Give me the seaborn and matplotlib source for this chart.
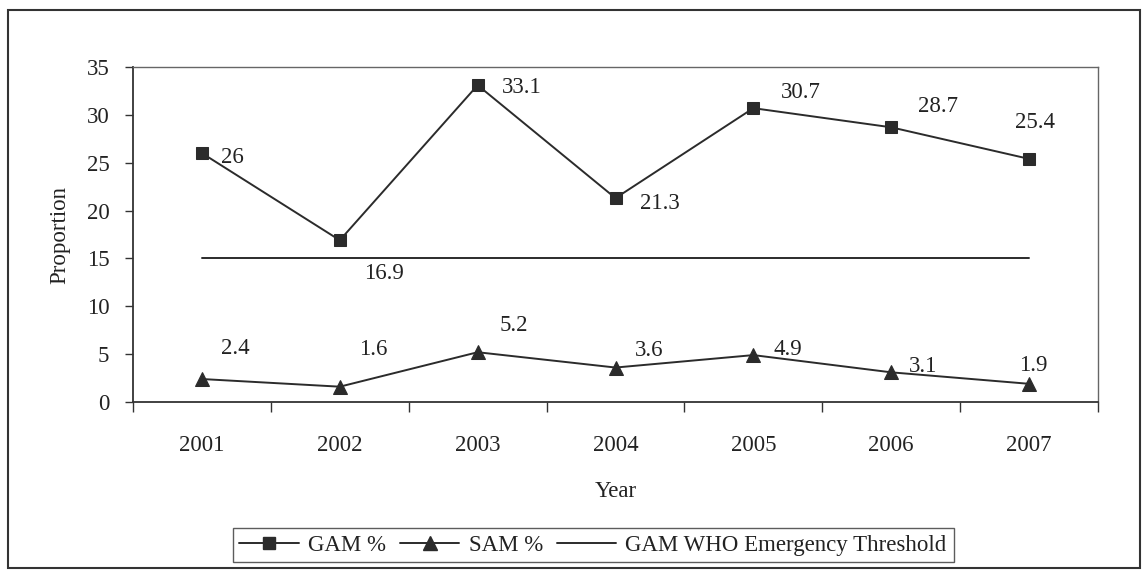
import matplotlib
matplotlib.use("Agg")
import matplotlib.pyplot as plt
import seaborn as sns
import pandas as pd
import numpy as np
from matplotlib.lines import Line2D
from matplotlib.patches import Rectangle

years = ["2001", "2002", "2003", "2004", "2005", "2006", "2007"]
gam = [26, 16.9, 33.1, 21.3, 30.7, 28.7, 25.4]
sam = [2.4, 1.6, 5.2, 3.6, 4.9, 3.1, 1.9]
threshold = [15, 15, 15, 15, 15, 15, 15]
gam_labels = ["26", "16.9", "33.1", "21.3", "30.7", "28.7", "25.4"]
sam_labels = ["2.4", "1.6", "5.2", "3.6", "4.9", "3.1", "1.9"]

# label offsets (points) relative to the data point
gam_offsets = [(22, -3), (32, -24), (32, -2), (32, -4), (34, 11), (34, 15), (4, 26)]
sam_offsets = [(24, 22), (24, 27), (26, 19), (24, 12), (25, 4), (23, 4), (3, 13)]

FS = 16.5

sns.set_theme(style="white")
plt.rcParams["font.family"] = ["Liberation Serif", "DejaVu Serif"]
plt.rcParams["font.size"] = FS

df = pd.DataFrame({"pos": np.arange(len(years)), "GAM": gam, "SAM": sam, "THR": threshold})

fig = plt.figure(figsize=(11.46, 5.8), dpi=100)
fig.patch.set_facecolor("white")
ax = fig.add_axes([133 / 1146, 1 - 402 / 580, (1098 - 133) / 1146, (402 - 67) / 580])

lc = "#2b2b2b"
sns.lineplot(data=df, x="pos", y="GAM", ax=ax, color=lc, lw=1.4, marker="s",
             markersize=8, markeredgecolor=lc, markerfacecolor=lc)
sns.lineplot(data=df, x="pos", y="SAM", ax=ax, color=lc, lw=1.4, marker="^",
             markersize=10, markeredgecolor=lc, markerfacecolor=lc)
sns.lineplot(data=df, x="pos", y="THR", ax=ax, color=lc, lw=1.4)

for i, (v, t) in enumerate(zip(gam, gam_labels)):
    ax.annotate(t, (i, v), xytext=gam_offsets[i], textcoords="offset points",
                ha="center", va="center", fontsize=FS, color="#222222")
for i, (v, t) in enumerate(zip(sam, sam_labels)):
    ax.annotate(t, (i, v), xytext=sam_offsets[i], textcoords="offset points",
                ha="center", va="center", fontsize=FS, color="#222222")

ax.set_xlim(-0.5, len(years) - 0.5)
ax.set_ylim(0, 35)
ax.set_yticks(range(0, 36, 5))
ax.set_xticks(range(len(years)))
ax.set_xticklabels(years)
ax.set_xticks(np.arange(-0.5, len(years), 1.0), minor=True)
ax.tick_params(axis="x", which="major", length=0, pad=24, labelsize=FS, colors="#222222")
ax.tick_params(axis="x", which="minor", length=7, width=1, direction="out", color="#333333", bottom=True)
ax.tick_params(axis="y", which="major", length=6, width=1, direction="out", color="#333333",
               left=True, pad=11, labelsize=FS, labelcolor="#222222")

ax.set_xlabel("Year", fontsize=FS, labelpad=18, color="#222222")
ax.set_ylabel("Proportion", fontsize=FS, labelpad=12, color="#222222")

for s in ["left", "bottom"]:
    ax.spines[s].set_color("#333333")
    ax.spines[s].set_linewidth(1.3)
for s in ["top", "right"]:
    ax.spines[s].set_color("#666666")
    ax.spines[s].set_linewidth(1.0)

handles = [
    Line2D([], [], color=lc, lw=1.4, marker="s", markersize=8),
    Line2D([], [], color=lc, lw=1.4, marker="^", markersize=10),
    Line2D([], [], color=lc, lw=1.4),
]
leg = fig.legend(handles, ["GAM %", "SAM %", "GAM WHO Emergency Threshold"],
                 loc="center", bbox_to_anchor=(593 / 1146, 1 - 545 / 580), ncol=3,
                 frameon=True, fancybox=False, fontsize=FS, handlelength=2.6,
                 handletextpad=0.4, columnspacing=0.6, borderpad=0.3)
leg.get_frame().set_edgecolor("#333333")
leg.get_frame().set_linewidth(1.0)
for t in leg.get_texts():
    t.set_color("#222222")

# outer chart border
fig.patches.append(Rectangle((8 / 1146, 1 - 568 / 580), (1140 - 8) / 1146, (568 - 10) / 580,
                             transform=fig.transFigure, fill=False, edgecolor="#333333",
                             linewidth=1.5))

fig.savefig("out.png", dpi=100)
